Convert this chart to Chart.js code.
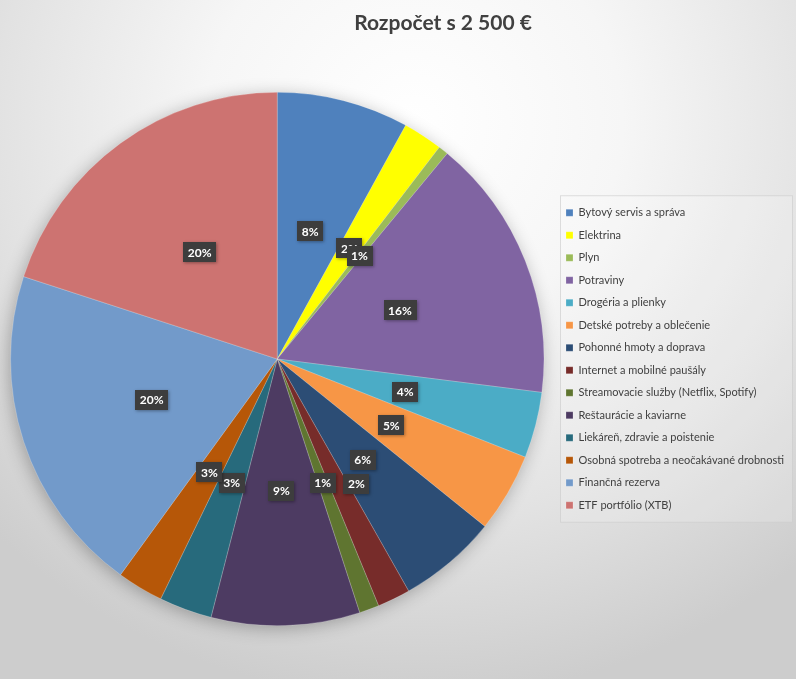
<!DOCTYPE html>
<html>
<head>
<meta charset="utf-8">
<script src="https://cdn.jsdelivr.net/npm/chart.js@4.4.1/dist/chart.umd.min.js"></script>
<style>
  html, body { margin: 0; padding: 0; }
  body {
    width: 796px; height: 679px; overflow: hidden;
    background: radial-gradient(ellipse 75% 85% at 52% 18%, #ffffff 0%, #f6f6f6 35%, #e2e2e2 70%, #cdcdcd 100%);
  }
  #wrap { position: relative; width: 796px; height: 679px; }
</style>
</head>
<body>
<div id="wrap"><canvas id="c"></canvas></div>
<script>
const chartTitle = 'Rozpočet s 2 500 €';
const categories = [
  'Bytový servis a správa',
  'Elektrina',
  'Plyn',
  'Potraviny',
  'Drogéria a plienky',
  'Detské potreby a oblečenie',
  'Pohonné hmoty a doprava',
  'Internet a mobilné paušály',
  'Streamovacie služby (Netflix, Spotify)',
  'Reštaurácie a kaviarne',
  'Liekáreň, zdravie a poistenie',
  'Osobná spotreba a neočakávané drobnosti',
  'Finančná rezerva',
  'ETF portfólio (XTB)'
];
const amounts = [200, 60, 15, 400, 100, 120, 150, 50, 30, 225, 80, 70, 500, 500];
const sliceColors = [
  '#4F81BD', '#FFFF00', '#9BBB59', '#8064A2', '#4BACC6', '#F79646', '#2C4D75',
  '#772C2A', '#5F7530', '#4D3B62', '#276A7C', '#B65708', '#729ACA', '#CD7371'
];

const FONT = 'Lato, "Open Sans", sans-serif';

const shadowPlugin = {
  id: 'pieShadow',
  beforeDatasetsDraw(chart) {
    const arc = chart.getDatasetMeta(0).data[0];
    if (!arc) return;
    const ctx = chart.ctx;
    ctx.save();
    ctx.shadowColor = 'rgba(0,0,0,0.30)';
    ctx.shadowBlur = 18;
    ctx.shadowOffsetX = -2;
    ctx.shadowOffsetY = 3;
    ctx.fillStyle = '#999';
    ctx.beginPath();
    ctx.arc(arc.x, arc.y, arc.outerRadius - 1, 0, Math.PI * 2);
    ctx.fill();
    ctx.restore();
  }
};

const labelPlugin = {
  id: 'pctLabels',
  afterDatasetsDraw(chart) {
    const ctx = chart.ctx;
    const ds = chart.data.datasets[0];
    const total = ds.data.reduce((a, b) => a + b, 0);
    const meta = chart.getDatasetMeta(0);
    ctx.save();
    ctx.font = 'bold 12px ' + FONT;
    ctx.textAlign = 'center';
    ctx.textBaseline = 'middle';
    meta.data.forEach((arc, i) => {
      const p = arc.getProps(['x', 'y', 'startAngle', 'endAngle', 'outerRadius']);
      let mid = (p.startAngle + p.endAngle) / 2;
      let rf = 0.495;
      if (i === 7) { mid -= 6.4 * Math.PI / 180; rf = 0.555; }
      const x = p.x + Math.cos(mid) * p.outerRadius * rf;
      const y = p.y + Math.sin(mid) * p.outerRadius * rf;
      const txt = Math.round(ds.data[i] / total * 100) + '%';
      const w = ctx.measureText(txt).width + 9;
      const h = 20;
      ctx.save();
      ctx.shadowColor = 'rgba(0,0,0,0.35)';
      ctx.shadowBlur = 3;
      ctx.shadowOffsetX = 1;
      ctx.shadowOffsetY = 1;
      ctx.fillStyle = '#3d3d3d';
      ctx.fillRect(Math.round(x - w / 2), Math.round(y - h / 2), Math.round(w), h);
      ctx.restore();
      ctx.fillStyle = '#ffffff';
      ctx.fillText(txt, x, y + 0.5);
    });
    ctx.restore();
  }
};

const titlePlugin = {
  id: 'titleText',
  afterDraw(chart) {
    const ctx = chart.ctx;
    ctx.save();
    ctx.font = 'bold 21px ' + FONT;
    ctx.fillStyle = '#404040';
    ctx.textAlign = 'center';
    ctx.textBaseline = 'middle';
    ctx.fillText(chartTitle, 443, 23);
    ctx.restore();
  }
};

const legendBoxPlugin = {
  id: 'legendBox',
  beforeDraw(chart) {
    const lg = chart.legend;
    if (!lg || !lg.legendHitBoxes || !lg.legendHitBoxes.length) return;
    const hb = lg.legendHitBoxes;
    const top = hb[0].top - 12;
    const bottom = hb[hb.length - 1].top + hb[hb.length - 1].height + 12;
    const left = hb[0].left - 6;
    const right = 793;
    const ctx = chart.ctx;
    ctx.save();
    ctx.fillStyle = 'rgba(255,255,255,0.18)';
    ctx.fillRect(left, top, right - left, bottom - top);
    ctx.strokeStyle = 'rgba(200,200,200,0.6)';
    ctx.lineWidth = 1;
    ctx.strokeRect(left + 0.5, top + 0.5, right - left - 1, bottom - top - 1);
    ctx.restore();
  }
};

new Chart(document.getElementById('c'), {
  type: 'pie',
  data: {
    labels: categories,
    datasets: [{
      data: amounts,
      backgroundColor: sliceColors,
      borderColor: 'rgba(255,255,255,0.35)',
      borderWidth: 0.6
    }]
  },
  options: {
    responsive: true,
    maintainAspectRatio: false,
    animation: false,
    events: [],
    layout: { padding: { top: 92, bottom: 53, left: 0, right: 2 } },
    plugins: {
      title: { display: false },
      tooltip: { enabled: false },
      legend: {
        display: true,
        position: 'right',
        labels: {
          boxWidth: 7,
          boxHeight: 7,
          padding: 11.5,
          color: '#404040',
          font: { family: FONT, size: 11 }
        }
      }
    }
  },
  plugins: [shadowPlugin, labelPlugin, titlePlugin, legendBoxPlugin]
});
</script>
</body>
</html>
